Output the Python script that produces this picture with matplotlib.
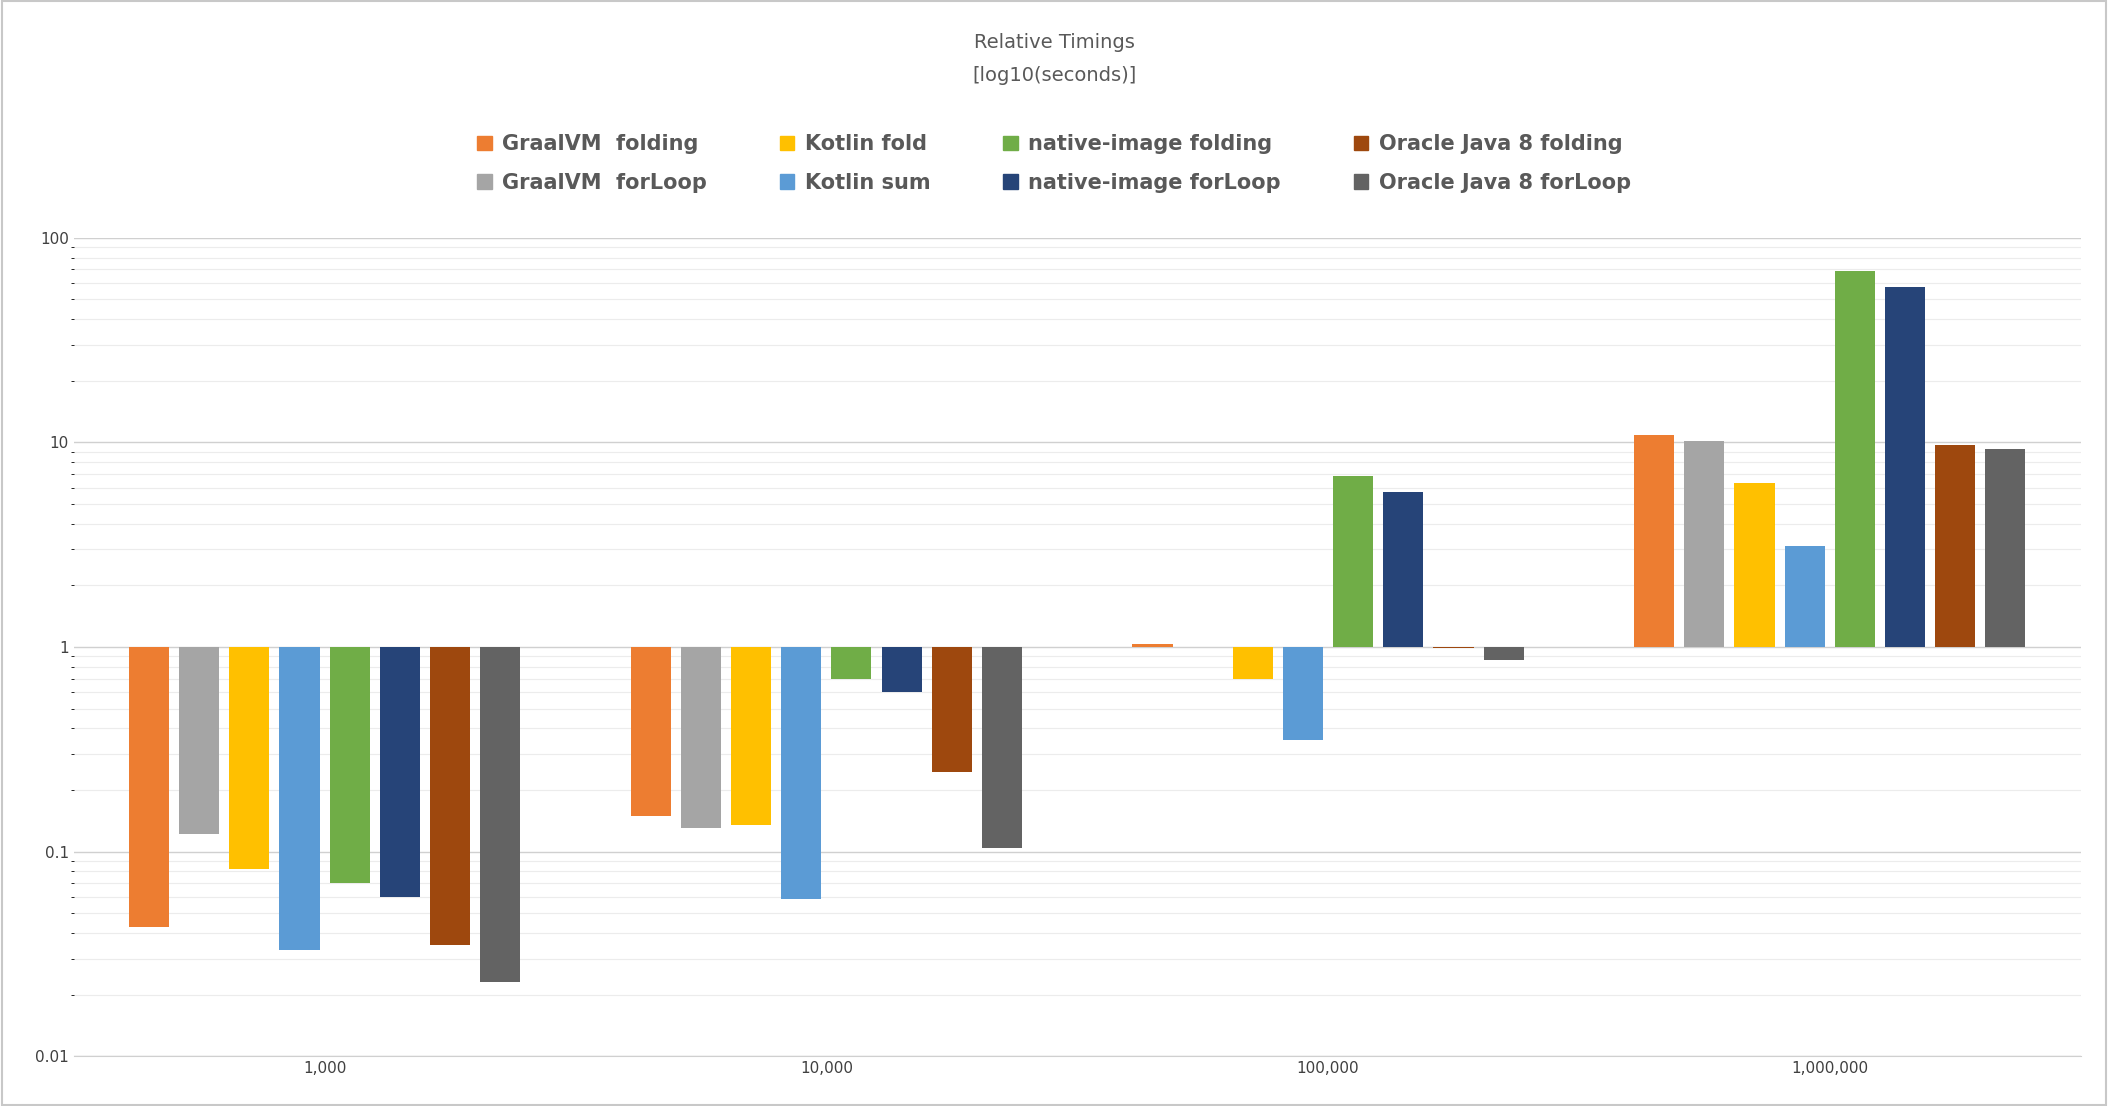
import numpy as np
import matplotlib.pyplot as plt
from matplotlib.ticker import FixedLocator, FixedFormatter, LogLocator, NullFormatter
from matplotlib.patches import Patch

groups = ["1,000", "10,000", "100,000", "1,000,000"]
series = ["GraalVM  folding", "GraalVM  forLoop", "Kotlin fold", "Kotlin sum",
          "native-image folding", "native-image forLoop", "Oracle Java 8 folding", "Oracle Java 8 forLoop"]
colors = ["#ED7D31", "#A5A5A5", "#FFC000", "#5B9BD5", "#70AD47", "#264478", "#9E480E", "#636363"]
values = [
    [0.043, 0.15, 1.04, 10.9],
    [0.122, 0.13, 1.0, 10.2],
    [0.082, 0.135, 0.70, 6.3],
    [0.033, 0.059, 0.35, 3.1],
    [0.070, 0.70, 6.85, 69],
    [0.060, 0.60, 5.7, 57.8],
    [0.035, 0.245, 0.985, 9.7],
    [0.023, 0.104, 0.86, 9.3],
]

fig = plt.figure(figsize=(21.08, 11.06), dpi=100)
ax = fig.add_axes([0.035, 0.045, 0.952, 0.74])
x = np.arange(len(groups))
width = 0.08
stride = 0.1
for i, (name, vals) in enumerate(zip(series, values)):
    v = np.array(vals)
    ax.bar(x + (i - 3.5) * stride, v - 1, bottom=1, width=width, color=colors[i], zorder=3)

ax.set_yscale("log")
ax.set_ylim(0.01, 100)
ax.set_xlim(-0.5, 3.5)
ax.yaxis.set_major_locator(FixedLocator([0.01, 0.1, 1, 10, 100]))
ax.yaxis.set_major_formatter(FixedFormatter(["0.01", "0.1", "1", "10", "100"]))
ax.yaxis.set_minor_locator(LogLocator(subs=np.arange(2, 10)))
ax.yaxis.set_minor_formatter(NullFormatter())
ax.grid(axis="y", which="major", color="#D0D0D0", lw=1, zorder=0)
ax.grid(axis="y", which="minor", color="#ECECEC", lw=0.8, zorder=0)
ax.set_xticks(x)
ax.set_xticklabels(groups)
ax.tick_params(length=0, labelsize=11, colors="#404040")
for s in ["top", "right", "left"]:
    ax.spines[s].set_visible(False)
ax.spines["bottom"].set_color("#D0D0D0")
ax.set_axisbelow(True)

fig.text(0.5, 0.962, "Relative Timings", ha="center", va="center", fontsize=14, color="#595959")
fig.text(0.5, 0.932, "[log10(seconds)]", ha="center", va="center", fontsize=14, color="#595959")
handles = [Patch(color=c, label=s) for c, s in zip(colors, series)]
fig.legend(handles=handles, ncol=4, loc="center", bbox_to_anchor=(0.5, 0.852), frameon=False,
           prop={"size": 15, "weight": "bold"}, labelcolor="#595959", handlelength=0.7,
           handleheight=0.7, columnspacing=3.5, handletextpad=0.5, labelspacing=0.9)
fig.patches.append(plt.Rectangle((0.001, 0.001), 0.998, 0.998, transform=fig.transFigure,
                                 fill=False, edgecolor="#C8C8C8", lw=1.5))
fig.savefig("out.png")
